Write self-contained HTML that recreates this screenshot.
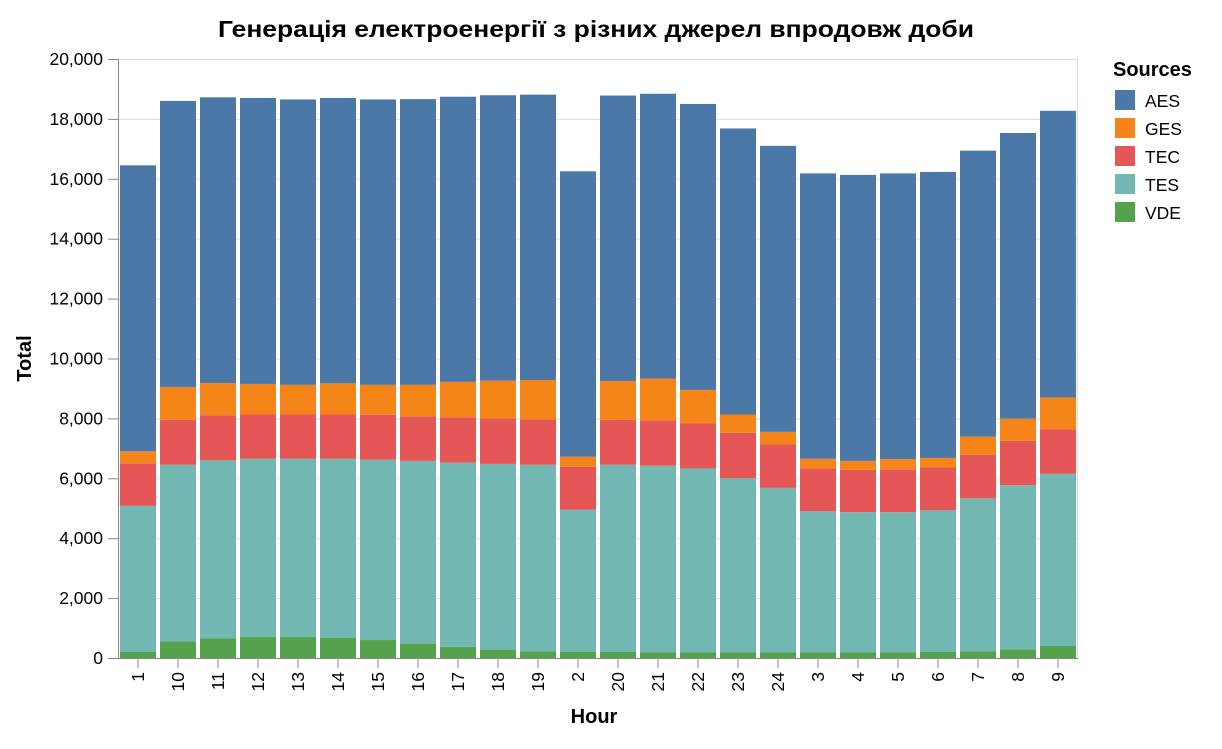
<!DOCTYPE html>
<html><head><meta charset="utf-8"><style>
body{margin:0;background:#fff;font-family:"Liberation Sans",Arial,sans-serif;}
svg text{font-family:"Liberation Sans",Arial,sans-serif;}
</style></head><body>
<svg id="chart" width="1222" height="744" xmlns="http://www.w3.org/2000/svg">
<text x="596" y="37" text-anchor="middle" font-size="23" font-weight="bold" fill="#000" textLength="756" lengthAdjust="spacingAndGlyphs">Генерація електроенергії з різних джерел впродовж доби</text>
<g id="grid"></g>
<g id="bars"></g>
<g id="axes"></g>
<g id="legend"></g>
</svg>
<script>
const hours=["1","10","11","12","13","14","15","16","17","18","19","2","20","21","22","23","24","3","4","5","6","7","8","9"];
const VDE=[200,550,650,700,700,680,600,480,370,280,220,200,200,190,190,190,190,190,190,190,200,220,290,400];
const TES=[4880,5900,5950,5950,5950,5970,6020,6100,6150,6200,6230,4750,6250,6230,6140,5810,5490,4710,4680,4680,4730,5110,5480,5750];
const TEC=[1420,1500,1500,1480,1480,1480,1500,1490,1520,1520,1520,1430,1500,1520,1500,1520,1450,1430,1410,1430,1430,1460,1480,1490];
const GES=[400,1100,1080,1020,990,1040,1000,1050,1180,1260,1310,340,1300,1390,1120,610,420,320,300,340,320,600,740,1060];
const AES=[9550,9550,9540,9550,9530,9530,9530,9540,9520,9530,9530,9530,9530,9510,9550,9550,9550,9530,9550,9540,9550,9550,9540,9570];
const seriesNames=["VDE","TES","TEC","GES","AES"];
const yTicks=[0,2000,4000,6000,8000,10000,12000,14000,16000,18000,20000];
const series=[VDE,TES,TEC,GES,AES];
const colors={AES:"#4c78a8",GES:"#f58518",TEC:"#e45756",TES:"#72b7b2",VDE:"#54a24b"};
const X0=118,X1=1078,Y0=658,Y1=59,YMAX=20000;
const step=(X1-X0)/hours.length;
const y=v=>Y0-(v/YMAX)*(Y0-Y1);
const x=i=>X0+i*step;
const NS="http://www.w3.org/2000/svg";
function mk(tag,attrs,parent,txt){const e=document.createElementNS(NS,tag);for(const k in attrs)e.setAttribute(k,attrs[k]);if(txt!==undefined)e.textContent=txt;parent.appendChild(e);return e;}
const grid=document.getElementById('grid'),bars=document.getElementById('bars'),axes=document.getElementById('axes'),legend=document.getElementById('legend');
const fr=mk('line',{x1:X1-.5,x2:X1-.5,y1:Y1,y2:Y0,stroke:'#ddd'},grid);


yTicks.forEach(t=>{
  const l=mk('line',{x1:X0,x2:X1,y1:y(t)+.5,y2:y(t)+.5,stroke:'#ddd'},grid);
  
  
  const tk=mk('line',{x1:X0-10,x2:X0,y1:y(t)+.5,y2:y(t)+.5,stroke:'#888'},axes);
  
  
  const lb=mk('text',{x:X0-15,y:y(t)+6,'text-anchor':'end','font-size':17.5,fill:'#000'},axes,t.toLocaleString('en-US'));
  
  
});
hours.forEach((h,i)=>{
  let cum=0;
  series.forEach((s,k)=>{
    const v=s[i];
    const r=mk('rect',{x:x(i)+2,width:step-4,y:y(cum+v),height:y(cum)-y(cum+v),fill:colors[seriesNames[k]]},bars);
    
    
    cum+=v;
  });
  const cx=x(i)+step/2;
  const tk=mk('line',{x1:cx,x2:cx,y1:Y0,y2:Y0+10,stroke:'#888'},axes);
  
  
  const lb=mk('text',{transform:`translate(${cx+6},${Y0+14}) rotate(-90)`,'text-anchor':'end','font-size':17.5,fill:'#000'},axes,h);
  
  
});
const xa=mk('line',{x1:X0,x2:X1,y1:Y0+.5,y2:Y0+.5,stroke:'#888'},axes);


const ya=mk('line',{x1:X0+.5,x2:X0+.5,y1:Y1,y2:Y0,stroke:'#888'},axes);


const xt=mk('text',{x:(X0+X1)/2-4,y:723,'text-anchor':'middle','font-size':20,'font-weight':'bold'},axes,'Hour');


const yt=mk('text',{transform:`translate(31,${(Y0+Y1)/2}) rotate(-90)`,'text-anchor':'middle','font-size':20,'font-weight':'bold'},axes,'Total');


const lt=mk('text',{x:1113,y:76,'font-size':20,'font-weight':'bold'},legend,'Sources');


["AES","GES","TEC","TES","VDE"].forEach((n,i)=>{
  const g=mk('g',{},legend);
  
  
  const yy=90+i*28;
  mk('rect',{x:1115,y:yy,width:20,height:20,fill:colors[n]},g);
  mk('text',{x:1145,y:yy+17,'font-size':17.5},g,n);
});
</script>
</body></html>
